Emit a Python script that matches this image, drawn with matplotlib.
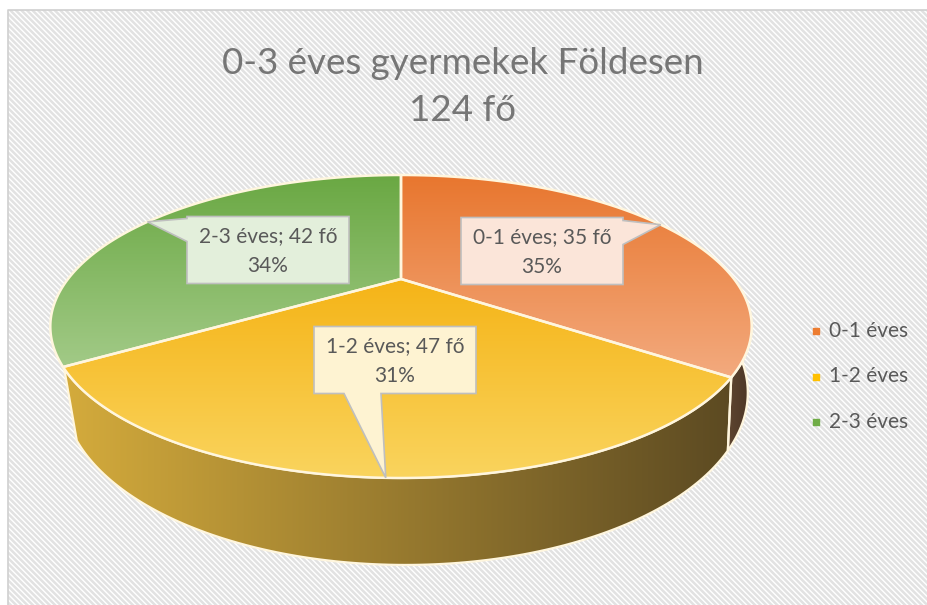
import numpy as np
import matplotlib
matplotlib.use("Agg")
import matplotlib.pyplot as plt
from matplotlib.patches import Polygon, Rectangle
from matplotlib.colors import LinearSegmentedColormap

# Data
categories = ['0-1 éves', '1-2 éves', '2-3 éves']
counts = [35, 47, 42]
percents = [35, 31, 34]
title = '0-3 éves gyermekek Földesen\n124 fő'

top_colors = [('#E8762E', '#F3AA7E'), ('#F5B417', '#FAD45E'), ('#6AA843', '#A2CA87')]
wall_colors = [('#5E4530', '#4A3525'), ('#D4AB3C', '#5C4A22'), ('#8DB870', '#8DB870')]
legend_colors = ['#ED7D31', '#FFC000', '#70AD47']
box_colors = ['#FBE5D9', '#FEF3D2', '#E3EFDB']
edge = '#FFF6DE'
text_color = '#595959'

plt.rcParams['font.family'] = ['Lato', 'DejaVu Sans']
plt.rcParams['hatch.linewidth'] = 1.8

fig = plt.figure(figsize=(9.28, 6.05), dpi=100)
ax = fig.add_axes([0, 0, 1, 1])
ax.set_xlim(0, 928)
ax.set_ylim(605, 0)
ax.axis('off')

# background with diagonal pattern
ax.add_patch(Rectangle((8, 10), 930, 600, facecolor='white', edgecolor='#E2E2E2',
                       hatch='\\\\\\\\\\\\', lw=0, zorder=0))
ax.plot([8, 8, 930], [610, 10, 10], color='#D0D0D0', lw=1.2, zorder=1)

# pie geometry (perspective projection, angle clockwise from the back)
cx, cy = 401, 279
ra, rb, k, depth = 333, 136.6, 0.3135, 59.7
bot_shift, bot_scale = 4.5, 0.976


def proj(theta, level=0.0):
    t = np.radians(theta)
    d = 1 + k * np.cos(t)
    s = 1 + (bot_scale - 1) * level
    return (cx + bot_shift * level + s * ra * np.sin(t) / d,
            cy - rb * np.cos(t) / d + depth * level / d)


def gradient(poly, c0, c1, z, horizontal=False):
    xs, ys = poly[:, 0], poly[:, 1]
    cmap = LinearSegmentedColormap.from_list('g', [c0, c1])
    vals = np.linspace(0, 1, 256)
    img = vals.reshape(1, -1) if horizontal else vals.reshape(-1, 1)
    im = ax.imshow(img, cmap=cmap, aspect='auto', interpolation='bilinear',
                   extent=(xs.min(), xs.max(), ys.max(), ys.min()), zorder=z)
    patch = Polygon(poly, closed=True, facecolor='none', edgecolor='none')
    ax.add_patch(patch)
    im.set_clip_path(patch)


bounds = np.concatenate([[0], np.cumsum(percents) * 3.6])
vis0, vis1 = 95, 237

# side walls
for i in range(len(categories)):
    t0, t1 = max(bounds[i], vis0), min(bounds[i + 1], vis1)
    if t1 <= t0:
        continue
    th = np.linspace(t0, t1, 120)
    tx, ty = proj(th)
    bx, by = proj(th, 1)
    poly = np.column_stack([np.r_[tx, bx[::-1]], np.r_[ty, by[::-1]]])
    gradient(poly, *wall_colors[i], z=2, horizontal=True)
    ax.add_patch(Polygon(poly, closed=True, facecolor='none', edgecolor=edge, lw=1.6, zorder=2.5))

# top faces
for i in range(len(categories)):
    th = np.linspace(bounds[i], bounds[i + 1], 200)
    tx, ty = proj(th)
    poly = np.column_stack([np.r_[cx, tx], np.r_[cy, ty]])
    gradient(poly, *top_colors[i], z=3)
    ax.add_patch(Polygon(poly, closed=True, facecolor='none', edgecolor=edge, lw=1.8, zorder=4))

# data label callouts
box_centers = [(542, 251), (395, 360), (268, 250)]
box_w, box_h = 162, 67
for i in range(len(categories)):
    mid = (bounds[i] + bounds[i + 1]) / 2
    tip = proj(mid)
    bx, by = box_centers[i]
    l, r, t, b = bx - box_w / 2, bx + box_w / 2, by - box_h / 2, by + box_h / 2
    if tip[0] > r:
        pts = [(l, t), (r, t), (r, t + 3), tip, (r, t + 27), (r, b), (l, b)]
    elif tip[0] < l:
        pts = [(l, t), (r, t), (r, b), (l, b), (l, t + 25), tip, (l, t + 2)]
    else:
        pts = [(l, t), (r, t), (r, b), (bx - 14, b), tip, (bx - 51, b), (l, b)]
    ax.add_patch(Polygon(pts, closed=True, facecolor=box_colors[i], edgecolor='#BFBFBF',
                         lw=1.2, zorder=6))
    ax.text(bx, by + 1, f'{categories[i]}; {counts[i]} fő\n{percents[i]}%', ha='center',
            va='center', fontsize=15, color=text_color, linespacing=1.6, zorder=7)

# title
ax.text(463, 87, title, ha='center', va='center', fontsize=26.5,
        color='#767676', linespacing=1.55, zorder=7)

# legend
for i, name in enumerate(categories):
    y = 331 + i * 45.5
    ax.scatter([816], [y], marker='s', s=14, color=legend_colors[i], zorder=7)
    ax.text(829, y, name, ha='left', va='center', fontsize=15, color=text_color, zorder=7)

fig.savefig('out.png', dpi=100)
